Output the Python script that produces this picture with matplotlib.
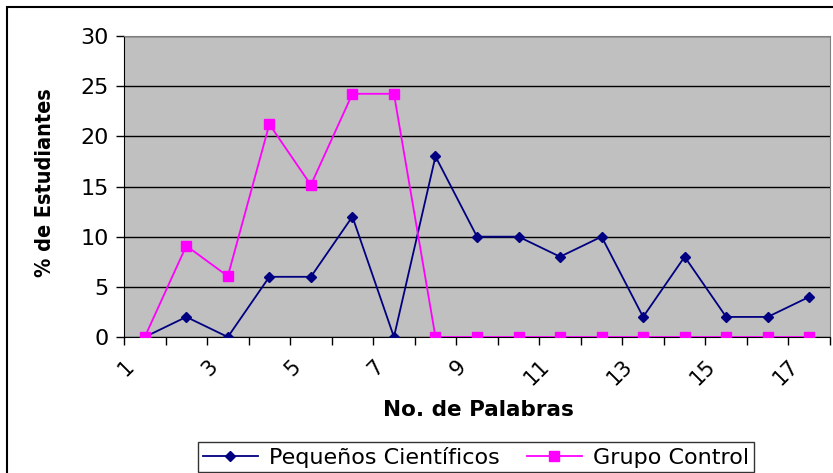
import numpy as np
import matplotlib.pyplot as plt
from matplotlib.patches import Rectangle

# No. de Palabras (categories) and % de Estudiantes per group
palabras = list(range(1, 18))
pequenos = [0, 2, 0, 6, 6, 12, 0, 18, 10, 10, 8, 10, 2, 8, 2, 2, 4]
control = [0, 9.09, 6.06, 21.21, 15.15, 24.24, 24.24, 0, 0, 0, 0, 0, 0, 0, 0, 0, 0]
tick_labels = [str(n) for n in palabras if n % 2 == 1]

fig = plt.figure(figsize=(8.33, 4.73), dpi=100)
ax = fig.add_axes([124 / 833, 1 - 337 / 473, 706 / 833, 301 / 473])

# outer chart border
fig.patches.append(Rectangle((7 / 833, -0.05), 1.2, 1 - 7 / 473 + 0.05,
                             transform=fig.transFigure, fill=False,
                             edgecolor='black', linewidth=1.5))

ax.set_facecolor('#C0C0C0')
ax.plot(palabras, pequenos, color='#000080', marker='D', markersize=5.5,
        linewidth=1.3, label='Pequeños Científicos', zorder=3)
ax.plot(palabras, control, color='#FF00FF', marker='s', markersize=6.5,
        linewidth=1.3, label='Grupo Control', zorder=3)

ax.set_xlim(0.5, 17.5)
ax.set_ylim(0, 30)
ax.set_yticks(range(0, 31, 5))
ax.yaxis.grid(True, color='black', linewidth=1)
ax.set_axisbelow(True)

# category boundaries carry the ticks, odd labels sit at the left edge of each category
ax.set_xticks(np.arange(0.5, 18, 1), minor=True)
ax.set_xticks(np.arange(0.5, 17, 2))
ax.set_xticklabels(tick_labels, rotation=45, ha='right', va='top',
                   rotation_mode='anchor')
ax.tick_params(axis='x', which='both', length=6, width=1, direction='out')
ax.tick_params(axis='x', which='major', pad=8, labelsize=15)
ax.tick_params(axis='y', length=6, width=1, labelsize=16, pad=5)

for side in ['top', 'right']:
    ax.spines[side].set_color('#808080')
ax.spines['left'].set_color('black')
ax.spines['bottom'].set_color('black')

fig.text(478 / 833, 1 - 410 / 473, 'No. de Palabras', ha='center', va='center',
         fontsize=15.5, fontweight='bold')
fig.text(45 / 833, 1 - 183 / 473, '% de Estudiantes', ha='center', va='center',
         rotation=90, fontsize=15.5, fontweight='bold', fontstretch='condensed')

ax.legend(loc='upper center', bbox_to_anchor=(476 / 833, 1 - 431 / 473),
          bbox_transform=fig.transFigure, ncol=2, frameon=True, fancybox=False,
          edgecolor='black', fontsize=16, borderpad=0.2, handlelength=2.5,
          columnspacing=1.2, handletextpad=0.5)

plt.savefig('out.png', dpi=100)
